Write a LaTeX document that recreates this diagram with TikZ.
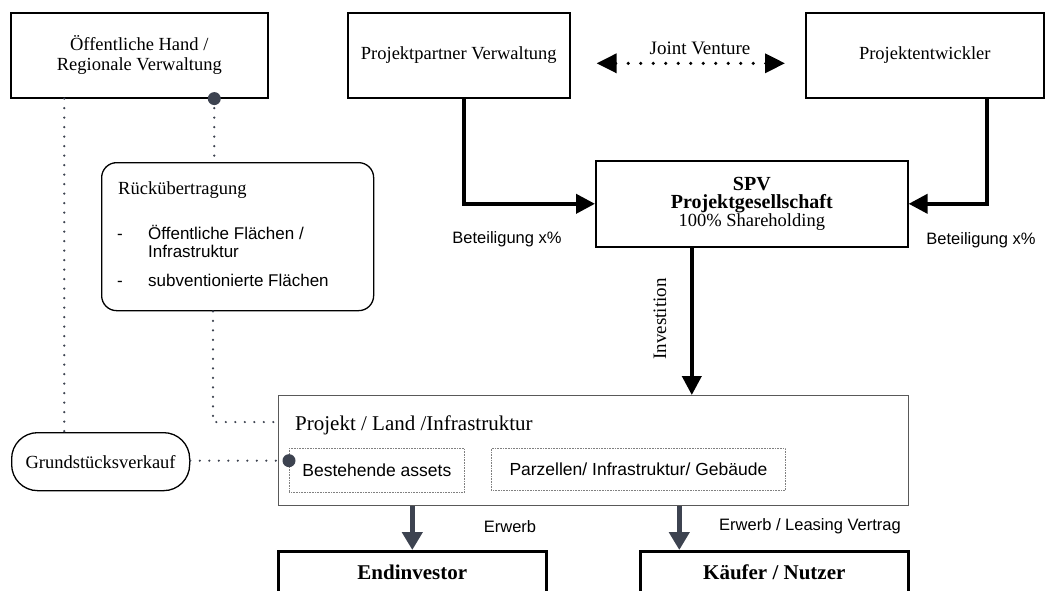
\documentclass[tikz,border=0pt]{standalone}
\usepackage{fontspec}
\setmainfont{Liberation Serif}
\setsansfont{Liberation Sans}
\usetikzlibrary{arrows.meta}
\definecolor{slate}{HTML}{3D4350}
\tikzstyle{entity}=[draw, line width=1.6pt, anchor=north west, inner sep=0pt, align=center, font=\fontsize{18.5}{20}\selectfont]
\tikzstyle{final}=[draw, line width=2.6pt, anchor=north west, inner sep=0pt]
\tikzstyle{asset}=[draw=gray, line width=0.8pt, dash pattern=on 0.8pt off 0.8pt, anchor=north west, inner sep=0pt, font=\sffamily\fontsize{17.5}{20}\selectfont]
\tikzstyle{share}=[line width=4pt, -{Triangle[length=19pt,width=19pt]}]
\tikzstyle{erwerb}=[slate, line width=4.5pt, -{Triangle[length=18pt,width=20pt]}]
\tikzstyle{dotline}=[slate, line width=2.4pt, line cap=round, dash pattern=on 0pt off 9.5pt]
\tikzstyle{lbl}=[font=\sffamily\fontsize{16.5}{18}\selectfont]
\tikzstyle{item}=[anchor=base west, inner sep=0pt, font=\sffamily\fontsize{17}{18}\selectfont]
\tikzstyle{bold}=[font=\bfseries\fontsize{21}{23}\selectfont]
\newcommand{\entity}{\node[entity]}
\begin{document}
\begin{tikzpicture}[x=1pt, y=-1pt]
\useasboundingbox (0,0) rectangle (1053,590);
\entity[minimum width=257pt, minimum height=85pt] (oeff) at (10,12) {Öffentliche Hand /\\Regionale Verwaltung};
\entity[minimum width=222pt, minimum height=85pt] (partner) at (347,12) {Projektpartner Verwaltung};
\entity[minimum width=238pt, minimum height=85pt] (entw) at (805,12) {Projektentwickler};
\entity[minimum width=312pt, minimum height=86pt, font=\fontsize{18.5}{18}\selectfont] (spv) at (595,160) {\fontsize{20}{18}\bfseries SPV\\\fontsize{20}{18}\bfseries Projektgesellschaft\\100\% Shareholding};
\node[draw, line width=1.3pt, rounded corners=15pt, anchor=north west, minimum width=272pt, minimum height=148pt] (rueck) at (101,162) {};
\node[anchor=west, inner sep=0pt, font=\fontsize{18.5}{20}\selectfont] (rtitle) at (118,190) {Rückübertragung};
\node[item] (r1) at (117,239) {-};
\node[item] (r1t) at (148,239) {Öffentliche Flächen /};
\node[item] (r1u) at (148,257) {Infrastruktur};
\node[item] (r2) at (117,286) {-};
\node[item] (r2t) at (148,286) {subventionierte Flächen};
\node[draw, line width=1.3pt, rounded corners=26pt, anchor=north west, minimum width=178pt, minimum height=58pt, font=\fontsize{18.5}{20}\selectfont] (grund) at (11,432) {Grundstücksverkauf};
\node[draw=gray!70!black, line width=1.3pt, anchor=north west, minimum width=630pt, minimum height=110pt] (proj) at (278,395) {};
\node[anchor=west, inner sep=0pt, font=\fontsize{21}{23}\selectfont] (ptitle) at (295,425) {Projekt / Land /Infrastruktur};
\node[asset, minimum width=175pt, minimum height=44pt] (best) at (289,448) {Bestehende assets};
\node[asset, minimum width=294pt, minimum height=42pt] (parz) at (491,448) {Parzellen/ Infrastruktur/ Gebäude};
\node[final, minimum width=268pt, minimum height=70pt] (endinv) at (277,550) {};
\node[bold] at ([yshift=-22pt]endinv.north) {Endinvestor};
\node[final, minimum width=268pt, minimum height=70pt] (kaeufer) at (639,550) {};
\node[bold] at ([yshift=-22pt]kaeufer.north) {Käufer / Nutzer};
\draw[line width=3.5pt, line cap=round, dash pattern=on 0pt off 12.5pt, {Triangle[length=20pt,width=19pt]}-{Triangle[length=20pt,width=19pt]}, shorten <=26pt, shorten >=20pt] ([yshift=-8pt]partner.east) -- ([yshift=-8pt]entw.west);
\node[font=\fontsize{19}{20}\selectfont] (jv) at (700,48) {Joint Venture};
\draw[share] ([xshift=5pt]partner.south) |- (spv.west);
\draw[share] ([xshift=62pt]entw.south) |- (spv.east);
\node[lbl] at (507,239) {Beteiligung x\%};
\node[lbl] at (981,240) {Beteiligung x\%};
\draw[share] ([xshift=-60pt]spv.south) -- ([xshift=-60pt]spv.south |- proj.north);
\node[rotate=90, font=\fontsize{19}{20}\selectfont] (inv) at (660,319) {Investition};
\draw[erwerb] (endinv.north |- proj.south) -- (endinv.north);
\draw[erwerb] ([xshift=-95pt]kaeufer.north |- proj.south) -- ([xshift=-95pt]kaeufer.north);
\node[lbl] at (510,527) {Erwerb};
\node[lbl] at (810,526) {Erwerb / Leasing Vertrag};
\coordinate (bend) at (213,422);
\draw[dotline] ([xshift=-75pt]oeff.south) -- ([xshift=-75pt]oeff.south |- grund.north);
\draw[dotline] ([xshift=75pt]oeff.south) -- ([xshift=75pt]oeff.south |- rueck.north);
\draw[dotline] (rueck.south -| bend) -- (bend) -- (bend -| proj.west);
\draw[dotline] ([yshift=1pt]grund.east) -- ([yshift=1pt]grund.east -| best.west);
\fill[slate] ([xshift=75pt]oeff.south) circle (6.5pt);
\fill[slate] ([yshift=1pt]grund.east -| best.west) circle (6.5pt);
\end{tikzpicture}
\end{document}
